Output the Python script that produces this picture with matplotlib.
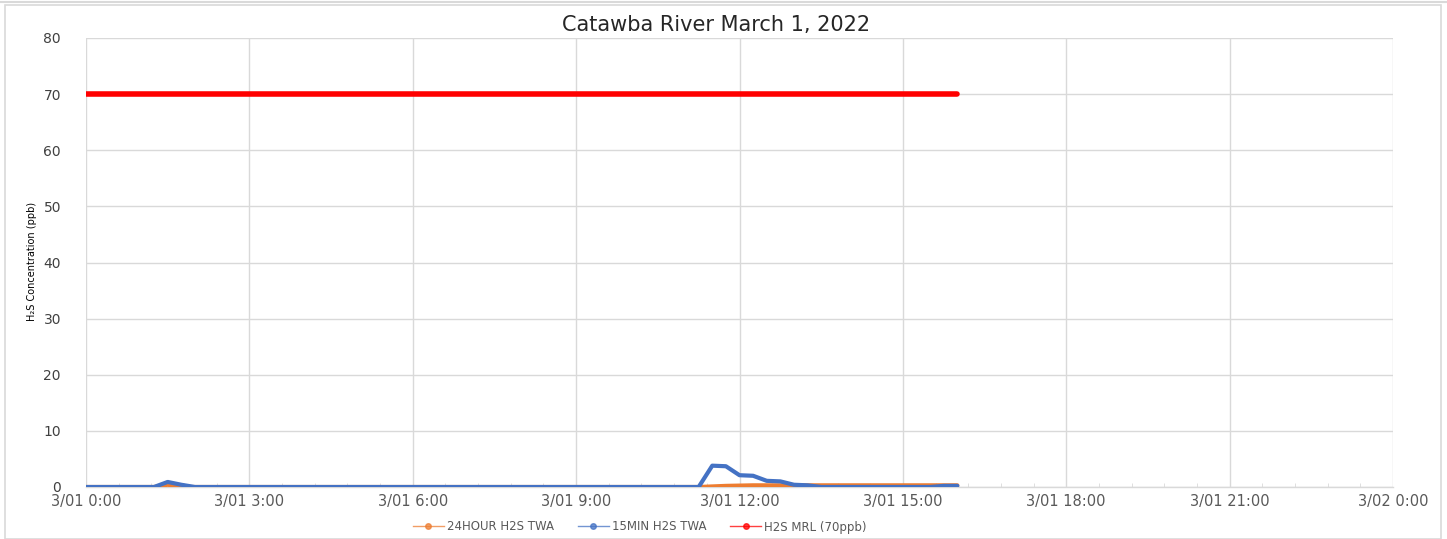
import matplotlib
matplotlib.use("Agg")
import matplotlib.pyplot as plt
import matplotlib.dates as mdates
from matplotlib.lines import Line2D
from matplotlib.patches import Rectangle
import pandas as pd

# ---- data (15-minute readings, 3/01 0:00 to 3/01 16:00) ----
times = pd.date_range("2022-03-01 00:00", "2022-03-01 16:00", freq="15min")

twa_15min = [0, 0, 0, 0, 0, 0, 0.9, 0.4, 0, 0, 0, 0,
             0, 0, 0, 0, 0, 0, 0, 0, 0, 0, 0, 0,
             0, 0, 0, 0, 0, 0, 0, 0, 0, 0, 0, 0,
             0, 0, 0, 0, 0, 0, 0, 0, 0, 0, 3.8, 3.7,
             2.1, 2.0, 1.1, 1.0, 0.4, 0.3, 0, 0, 0, 0, 0, 0,
             0, 0, 0, 0.2, 0.2]

twa_24hour = [0, 0, 0, 0, 0, 0, 0.4, 0, 0, 0, 0, 0,
              0, 0, 0, 0, 0, 0, 0, 0, 0, 0, 0, 0,
              0, 0, 0, 0, 0, 0, 0, 0, 0, 0, 0, 0,
              0, 0, 0, 0, 0, 0, 0, 0, 0, 0, 0.1, 0.2,
              0.25, 0.3, 0.3, 0.3, 0.3, 0.3, 0.3, 0.3, 0.3, 0.3, 0.3, 0.3,
              0.3, 0.3, 0.3, 0.3, 0.3]

mrl = [70] * len(times)

series_names = ["24HOUR H2S TWA", "15MIN H2S TWA", "H2S MRL (70ppb)"]
series_colors = ["#ED7D31", "#4472C4", "#FF0000"]

title = "Catawba River March 1, 2022"
ylabel = "H\u2082S Concentration (ppb)"

# ---- figure ----
W, H = 1447, 539
fig = plt.figure(figsize=(W / 100, H / 100), dpi=100)
fig.patch.set_facecolor("white")

# outer chart border
fig.add_artist(Rectangle((5 / W, 0), (1441 - 5) / W, (H - 5) / H,
                         transform=fig.transFigure, fill=False,
                         edgecolor="#D9D9D9", lw=1.2))
fig.add_artist(Line2D([0, 1], [1 - 1.5 / H, 1 - 1.5 / H], transform=fig.transFigure,
                      color="#D9D9D9", lw=1.5))

ax = fig.add_axes([86 / W, 1 - 487 / H, (1393 - 86) / W, (487 - 38) / H])

ax.plot(times, twa_24hour, color=series_colors[0], lw=3, solid_capstyle="round", zorder=3)
ax.plot(times, twa_15min, color=series_colors[1], lw=3, solid_capstyle="round", zorder=4)
ax.plot(times, mrl, color=series_colors[2], lw=4, solid_capstyle="round", zorder=5)

x0 = pd.Timestamp("2022-03-01 00:00")
x1 = pd.Timestamp("2022-03-02 00:00")
ax.set_xlim(x0, x1)
ax.set_ylim(0, 80)
ax.set_yticks(range(0, 81, 10))

ax.xaxis.set_major_locator(mdates.HourLocator(interval=3))
minor_ticks = pd.date_range(x0, x1, freq="36min")
ax.set_xticks(minor_ticks, minor=True)


def fmt(v, pos=None):
    d = mdates.num2date(v)
    return f"{d.month}/{d.day:02d} {d.hour}:{d.minute:02d}"


ax.xaxis.set_major_formatter(plt.FuncFormatter(fmt))

ax.grid(True, which="major", color="#D9D9D9", lw=1)
ax.set_axisbelow(True)
for s in ["top", "right", "left"]:
    ax.spines[s].set_visible(False)
ax.spines["bottom"].set_color("#D9D9D9")
ax.spines["bottom"].set_linewidth(1)

ax.tick_params(axis="y", length=0, pad=18, labelsize=10, labelcolor="#404040")
ax.tick_params(axis="x", which="major", length=0, pad=5, labelsize=10.5, labelcolor="#595959")
ax.tick_params(axis="x", which="minor", length=3, direction="in", color="#D9D9D9")

fig.text(716 / W, 1 - 25 / H, title, fontsize=15, color="#262626", ha="center", va="center")
fig.text(32 / W, 1 - 261 / H, ylabel, rotation=90, fontsize=7, ha="center", va="center",
         color="black")

handles = [Line2D([], [], color=c, lw=1, marker="o", markersize=4, alpha=0.75)
           for c in series_colors]
fig.legend(handles, series_names, loc="center", bbox_to_anchor=(640 / W, 1 - 527 / H),
           ncol=3, frameon=False, fontsize=8.5, handlelength=2.6, handletextpad=0.3,
           columnspacing=2.0, labelcolor="#595959")

fig.savefig("out.png", dpi=100)
